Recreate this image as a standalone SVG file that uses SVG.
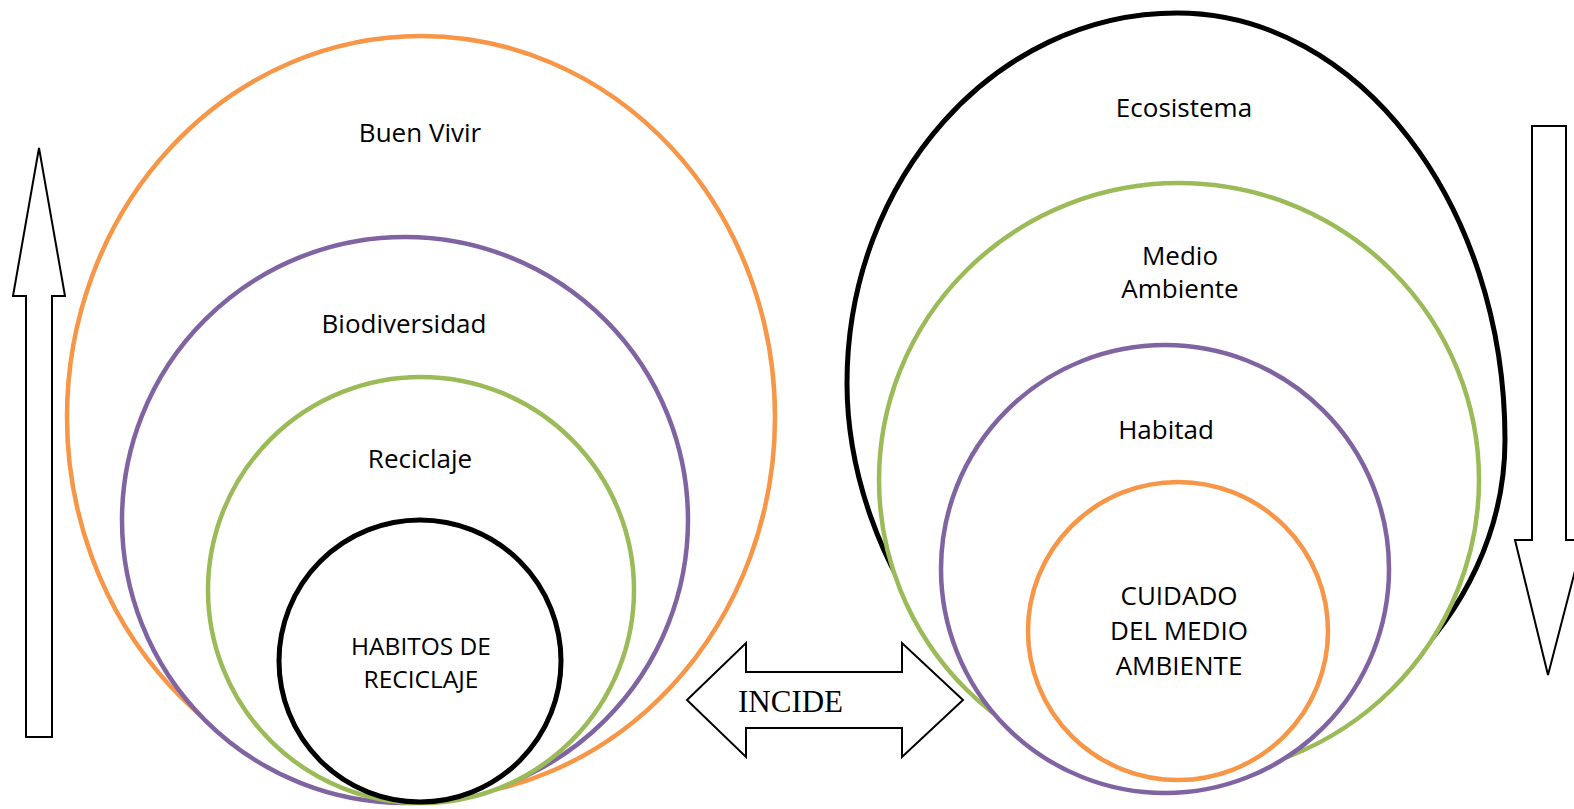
<svg xmlns="http://www.w3.org/2000/svg" width="1574" height="809" viewBox="0 0 1574 809">
<style>
.c{fill:#fff;stroke-width:4.5}
.o{stroke:#F79646}.p{stroke:#8064A2}.g{stroke:#9BBB59}.k{stroke:#000;stroke-width:5}
.t{font-family:"Open Sans","Noto Sans",sans-serif;font-size:26px;fill:#000;text-anchor:middle}
.s{font-size:24.5px}
.ar{fill:#fff;stroke:#000;stroke-width:2;stroke-linejoin:miter}
</style>
<rect width="1574" height="809" fill="#fff"/>
<g id="left-set">
<g id="buen-vivir"><ellipse class="c o" cx="421" cy="417" rx="354" ry="381"/><text class="t" x="420" y="142">Buen Vivir</text></g>
<g id="biodiversidad"><circle class="c p" cx="405" cy="520" r="283"/><text class="t" x="404" y="333">Biodiversidad</text></g>
<g id="reciclaje"><circle class="c g" cx="421" cy="590" r="213"/><text class="t" x="420" y="468">Reciclaje</text></g>
<g id="habitos"><circle class="c k" cx="420" cy="661" r="141"/><text class="t s" x="421" y="655">HABITOS DE</text><text class="t s" x="421" y="688">RECICLAJE</text></g>
</g>
<g id="right-set">
<g id="ecosistema"><path class="c k" d="M1177,13 C1358,13 1505,204 1505,440 C1505,620 1340,770 1170,762 C980,762 847,560 847,383 C847,179 995,13 1177,13 Z"/><text class="t" x="1184" y="117">Ecosistema</text></g>
<g id="medio-ambiente"><ellipse class="c g" cx="1179" cy="480" rx="300" ry="297"/><text class="t" x="1180" y="265">Medio</text><text class="t" x="1180" y="298">Ambiente</text></g>
<g id="habitad"><circle class="c p" cx="1165" cy="569" r="224"/><text class="t" x="1166" y="439">Habitad</text></g>
<g id="cuidado"><ellipse class="c o" cx="1178" cy="631" rx="150" ry="149"/><text class="t" x="1179" y="605">CUIDADO</text><text class="t" x="1179" y="640">DEL MEDIO</text><text class="t" x="1179" y="675">AMBIENTE</text></g>
</g>
<g id="connectors">
<polygon class="ar" points="39,148 65,296 52,296 52,737 26,737 26,296 13,296"/>
<polygon class="ar" points="1532,126 1566,126 1566,540 1583,540 1548,675 1515,540 1532,540"/>
<g id="incide"><polygon class="ar" points="687,700 746,643 746,672 902,672 902,643 963,700 902,757 902,728 746,728 746,757"/>
<text x="738" y="712" style="font-family:'Liberation Serif','Times New Roman',serif;font-size:31px;fill:#000">INCIDE</text></g>
</g>
</svg>
